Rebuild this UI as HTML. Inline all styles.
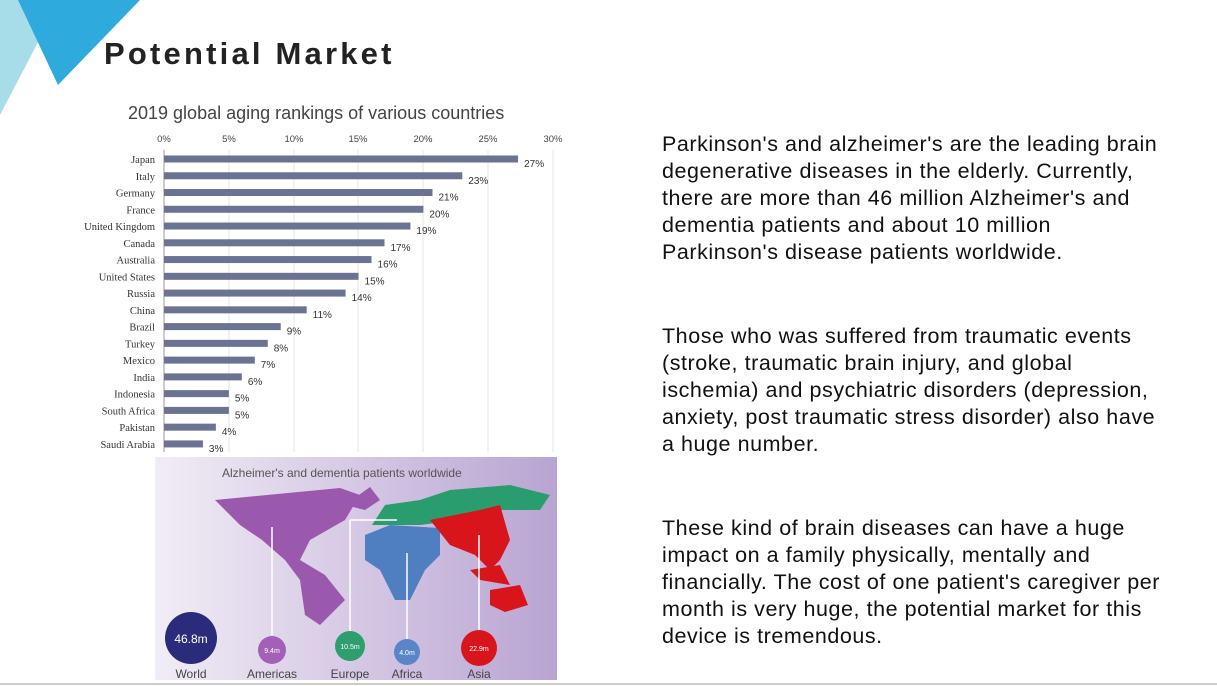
<!DOCTYPE html>
<html><head><meta charset="utf-8"><style>
body{margin:0;width:1217px;height:686px;background:#fff;position:relative;overflow:hidden;font-family:"Liberation Sans",sans-serif}
.t{position:absolute;left:662px;font-size:21.5px;letter-spacing:0.55px;line-height:27px;color:#111;width:512px}
</style></head><body>
<svg width="1217" height="686" style="position:absolute;left:0;top:0">
<polygon points="0,0 60,0 0,115" fill="#a7dde9"/>
<polygon points="18,0 140,0 58,85" fill="#2eaadc"/>
<text x="104" y="64" font-size="31" font-weight="bold" letter-spacing="3.2" fill="#222">Potential Market</text>
<text x="128" y="119" font-size="18" fill="#444">2019 global aging rankings of various countries</text>
<g font-size="9.5" fill="#444" text-anchor="middle">
<text x="164" y="142">0%</text><text x="229" y="142">5%</text><text x="294" y="142">10%</text><text x="358" y="142">15%</text><text x="423" y="142">20%</text><text x="488" y="142">25%</text><text x="553" y="142">30%</text>
</g>
<g stroke="#e4e4e4"><line x1="229" y1="150" x2="229" y2="452"/><line x1="294" y1="150" x2="294" y2="452"/><line x1="358" y1="150" x2="358" y2="452"/><line x1="423" y1="150" x2="423" y2="452"/><line x1="488" y1="150" x2="488" y2="452"/><line x1="553" y1="150" x2="553" y2="452"/></g>
<line x1="164" y1="150" x2="164" y2="452" stroke="#999"/>
<g font-size="10.5" fill="#333" id="bars"></g>
<defs><linearGradient id="g" x1="0" y1="0" x2="1" y2="0"><stop offset="0" stop-color="#f1edf6"/><stop offset="1" stop-color="#b9a4d2"/></linearGradient></defs>
<rect x="155" y="457" width="402" height="223" fill="url(#g)"/>
<text x="222" y="477" font-size="12" fill="#555">Alzheimer's and dementia patients worldwide</text>
<path d="M215,500 L340,488 L360,495 L345,520 L310,540 L300,560 L325,575 L345,600 L320,625 L305,615 L300,580 L285,560 L262,540 L240,525 Z" fill="#9b59ae"/>
<path d="M370,487 L380,500 L365,510 L345,505 Z" fill="#9b59ae"/>
<path d="M372,525 L385,505 L420,500 L450,490 L510,485 L550,495 L540,510 L500,510 L460,520 L420,525 Z" fill="#2a9d6e"/>
<path d="M365,535 L390,525 L440,528 L440,555 L425,570 L410,600 L395,600 L380,570 L365,560 Z" fill="#4f7fc1"/>
<path d="M430,520 L480,510 L500,505 L510,540 L500,560 L490,570 L475,555 L450,545 Z" fill="#d8151a"/>
<path d="M490,590 L520,585 L528,605 L505,612 L490,605 Z" fill="#d8151a"/>
<path d="M470,570 L500,565 L510,585 L480,580 Z" fill="#d8151a"/>
<g stroke="#fff" stroke-width="1.5"><line x1="272" y1="527" x2="272" y2="635"/><line x1="350" y1="520" x2="350" y2="635"/><line x1="350" y1="520" x2="397" y2="520"/><line x1="407" y1="553" x2="407" y2="640"/><line x1="479" y1="535" x2="479" y2="632"/></g>
<circle cx="191" cy="638" r="26" fill="#2b2b7c"/><text x="191" y="643" font-size="12" fill="#fff" text-anchor="middle">46.8m</text>
<circle cx="272" cy="650" r="14" fill="#a45fb6"/><text x="272" y="653" font-size="7" fill="#fff" text-anchor="middle">9.4m</text>
<circle cx="350" cy="646" r="15" fill="#2e9e6e"/><text x="350" y="649" font-size="7" fill="#fff" text-anchor="middle">10.5m</text>
<circle cx="407" cy="652" r="13" fill="#5a86c8"/><text x="407" y="655" font-size="7" fill="#fff" text-anchor="middle">4.0m</text>
<circle cx="479" cy="648" r="18" fill="#d8151a"/><text x="479" y="651" font-size="7" fill="#fff" text-anchor="middle">22.9m</text>
<g font-size="12" fill="#444" text-anchor="middle"><text x="191" y="678">World</text><text x="272" y="678">Americas</text><text x="350" y="678">Europe</text><text x="407" y="678">Africa</text><text x="479" y="678">Asia</text></g>
<line x1="0" y1="684" x2="1217" y2="684" stroke="#ccc" stroke-width="2"/>
</svg>
<div class="t" style="top:131px">Parkinson's and alzheimer's are the leading brain degenerative diseases in the elderly. Currently, there are more than 46 million Alzheimer's and dementia patients and about 10 million Parkinson's disease patients worldwide.</div>
<div class="t" style="top:323px">Those who was suffered from traumatic events (stroke, traumatic brain injury, and global ischemia) and psychiatric disorders (depression, anxiety, post traumatic stress disorder) also have a huge number.</div>
<div class="t" style="top:515px">These kind of brain diseases can have a huge impact on a family physically, mentally and financially. The cost of one patient's caregiver per month is very huge, the potential market for this device is tremendous.</div>
<script>
var d=[["Japan",27],["Italy",23],["Germany",21],["France",20],["United Kingdom",19],["Canada",17],["Australia",16],["United States",15],["Russia",14],["China",11],["Brazil",9],["Turkey",8],["Mexico",7],["India",6],["Indonesia",5],["South Africa",5],["Pakistan",4],["Saudi Arabia",3]];
var s="";
var vals=[27.3,23,20.7,20,19,17,16,15,14,11,9,8,7,6,5,5,4,3];
d.forEach(function(r,i){var y=159+i*16.76;var w=vals[i]*12.97;
s+='<text x="155" y="'+(y+4)+'" text-anchor="end" font-family="Liberation Serif">'+r[0]+'</text>';
s+='<rect x="164" y="'+(y-3.5)+'" width="'+w+'" height="7" fill="#6a7392"/>';
s+='<text x="'+(164+w+6)+'" y="'+(y+8)+'" font-size="10">'+r[1]+'%</text>';});
document.getElementById("bars").innerHTML=s;
</script>
</body></html>
